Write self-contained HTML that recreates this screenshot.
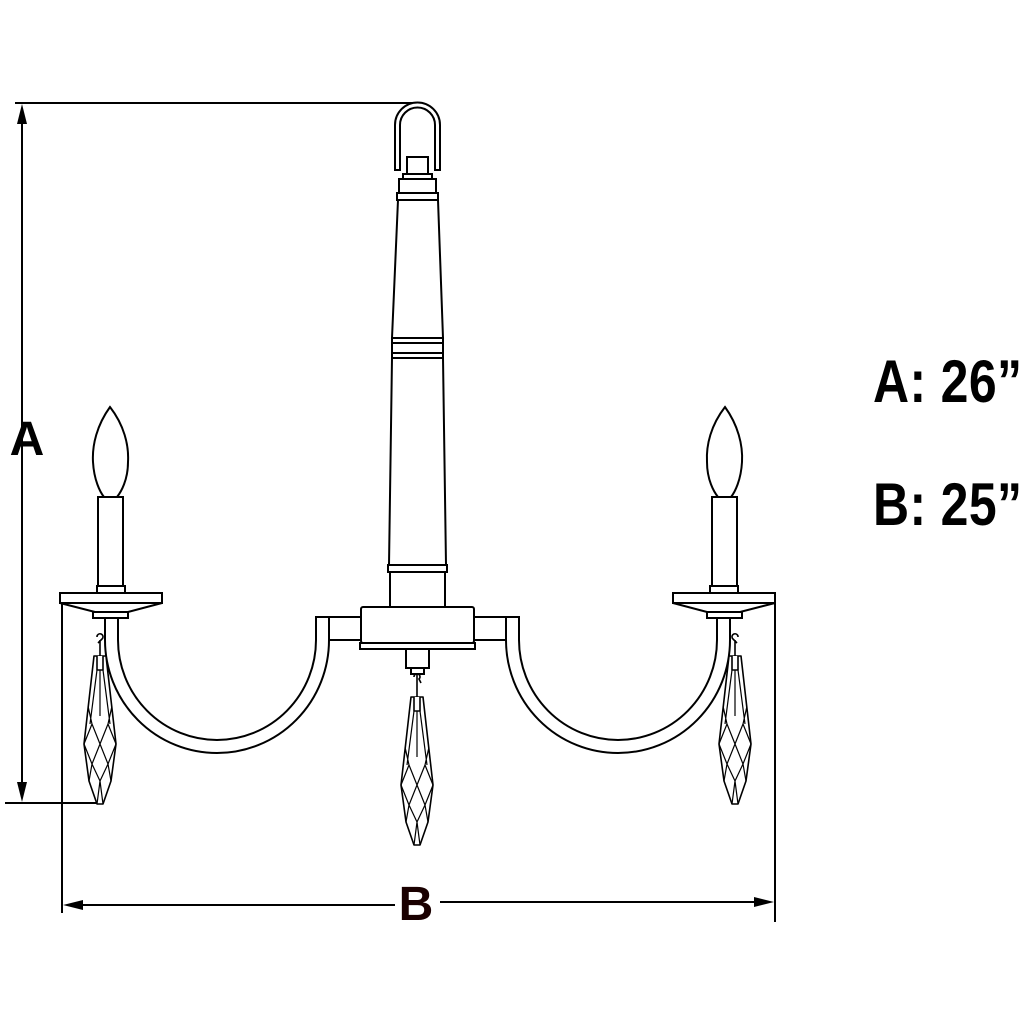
<!DOCTYPE html>
<html><head><style>html,body{margin:0;padding:0;background:#fff}svg{display:block}</style></head>
<body>
<svg width="1024" height="1024" viewBox="0 0 1024 1024" xmlns="http://www.w3.org/2000/svg">
<defs>
<symbol id="cr" overflow="visible">
<g fill="#fff" stroke="#000" stroke-width="1.6" stroke-linejoin="round">
<path d="M-6,0 L6,0 L16,88 L11,125 L3,148 L-3,148 L-11,125 L-16,88 Z"/>
<path d="M-3,0 L-3,14 L3,14 L3,0" />
<path fill="none" stroke-width="1.2" d="M-3,14 L-10,68 M3,14 L10,68 M-16,88 L-8,68 L0,88 L8,68 L16,88 M-16,88 L-8,108 L0,88 L8,108 L16,88 M-11,125 L-8,108 L0,125 L8,108 L11,125 M-3,148 L0,125 L3,148 M-12,50 L-8,68 M12,50 L8,68 M0,14 L0,60"/>
</g>
</symbol>
<g id="side">
<path d="M105,618 L105,640 A112,113 0 0 0 329,640 L329,617 L316,617 L316,640 A99,100 0 0 1 118,640 L118,618 Z" fill="#fff" stroke="#000" stroke-width="2"/>
<rect x="329" y="617" width="32" height="23" fill="#fff" stroke="#000" stroke-width="2"/>
<rect x="60" y="593" width="102" height="10" fill="#fff" stroke="#000" stroke-width="2"/>
<path d="M60,603 L162,603 L128,612 L95,612 Z" fill="#fff" stroke="#000" stroke-width="2"/>
<rect x="93" y="612" width="35" height="6" fill="#fff" stroke="#000" stroke-width="2"/>
<rect x="97" y="586" width="28" height="7" fill="#fff" stroke="#000" stroke-width="2"/>
<rect x="98" y="497" width="25" height="89" fill="#fff" stroke="#000" stroke-width="2"/>
<path d="M110,407 C97,425 92,445 93,462 C94,480 100,492 104,497 L117,497 C121,492 128,480 128,462 C129,445 124,425 110,407 Z" fill="#fff" stroke="#000" stroke-width="2"/>
<path d="M100,640 L100,658 M97,637 a3,3 0 1 1 5,2 L98,643" fill="none" stroke="#000" stroke-width="1.6"/>
<use href="#cr" x="100" y="656"/>
</g>
</defs>

<g stroke="#000" stroke-width="2" fill="none">
<line x1="15" y1="103" x2="415" y2="103"/>
<line x1="22" y1="110" x2="22" y2="796"/>
<line x1="5" y1="803" x2="100" y2="803"/>
<line x1="62" y1="603" x2="62" y2="913"/>
<line x1="775" y1="603" x2="775" y2="922"/>
<line x1="70" y1="905" x2="395" y2="905"/>
<line x1="440" y1="902" x2="767" y2="902"/>
</g>
<path d="M22,104 L17,124 L27,124 Z M22,802 L17,782 L27,782 Z M63,905 L83,900 L83,910 Z M774,902 L754,897 L754,907 Z" fill="#000"/>
<text x="27" y="455" font-family="Liberation Sans, sans-serif" font-weight="bold" font-size="48" text-anchor="middle">A</text>
<text x="416" y="920" font-family="Liberation Sans, sans-serif" font-weight="bold" font-size="48" text-anchor="middle" fill="#1a0000">B</text>
<text x="873" y="402" font-family="Liberation Sans, sans-serif" font-weight="bold" font-size="50" textLength="149" transform="translate(873,402) scale(1,1.2) translate(-873,-402)">A: 26”</text>
<text x="873" y="525" font-family="Liberation Sans, sans-serif" font-weight="bold" font-size="50" textLength="149" transform="translate(873,525) scale(1,1.2) translate(-873,-525)">B: 25”</text>

<use href="#side"/>
<use href="#side" transform="translate(835,0) scale(-1,1)"/>

<g fill="#fff" stroke="#000" stroke-width="2">
<path d="M395,170 L395,125 A22.5,22.5 0 0 1 440,125 L440,170 L435,170 L435,125 A17.5,17.5 0 0 0 400,125 L400,170 Z"/>
<rect x="407" y="157" width="21" height="20"/>
<rect x="403" y="174" width="29" height="5"/>
<rect x="399" y="179" width="37" height="14"/>
<rect x="397" y="193" width="41" height="7"/>
<path d="M398,200 L438,200 L443,338 L392,338 Z"/>
<rect x="392" y="338" width="51" height="5"/>
<rect x="392" y="343" width="51" height="10"/>
<rect x="392" y="353" width="51" height="5"/>
<path d="M392,358 L443,358 L446,565 L389,565 Z"/>
<rect x="388" y="565" width="59" height="7"/>
<rect x="390" y="572" width="55" height="35"/>
<rect x="361" y="607" width="113" height="36" rx="2"/>
<rect x="360" y="643" width="115" height="6"/>
<rect x="406" y="649" width="23" height="19"/>
<rect x="411" y="668" width="13" height="6"/>
</g>
<path d="M417,674 L417,700 M414,677 a3,3 0 1 1 5,2 L421,683" fill="none" stroke="#000" stroke-width="1.6"/>
<use href="#cr" x="417" y="697"/>
</svg>
</body></html>
